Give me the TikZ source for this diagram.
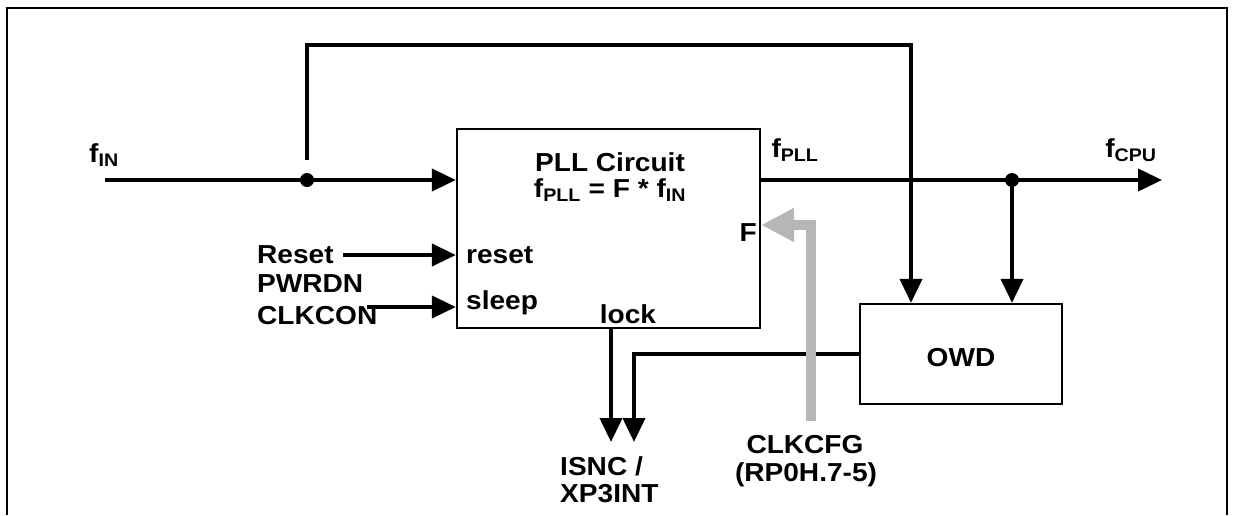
\documentclass[tikz,border=0pt]{standalone}
\usepackage{fontspec}
\setmainfont{Liberation Sans}[FakeStretch=1.08]
\usetikzlibrary{arrows.meta}
\definecolor{cfggray}{RGB}{182,182,182}
\tikzset{
  lbl/.style={inner sep=0pt, font=\bfseries\fontsize{26}{28}\selectfont},
  box/.style={draw, line width=2.3pt, inner sep=0pt},
  wire/.style={line width=4pt},
  arr/.style={wire, -{Triangle[length=24pt,width=22pt]}},
  grayarr/.style={line width=10pt, draw=cfggray, line join=miter, -{Triangle[length=33pt,width=32pt]}},
  dotnode/.style={circle, fill, inner sep=0pt, minimum size=14pt},
  frameline/.style={line width=2.5pt}
}
\begin{document}
\begin{tikzpicture}[x=1pt,y=-1pt]
\useasboundingbox (0,0) rectangle (1234,515);
% frame
\draw[frameline] (7,515) -- (7,8) -- (1227,8) -- (1227,515);
% boxes
\node[box, minimum width=303pt, minimum height=199pt] (pll) at (608.5,228.5) {};
\node[box, minimum width=202pt, minimum height=100pt] (owd) at (961,354) {};
% coordinates
\coordinate (fin) at (105,180);
\node[dotnode] (d1) at (307,180) {};
\node[dotnode] (d2) at (1012,180) {};
\coordinate (tstart) at (307,160);
\coordinate (topR) at (911,45);
\coordinate (fcpu) at (1162,180);
\coordinate (isnc1) at (611,442);
\coordinate (isnc2) at (634,442);
\coordinate (rst) at (343,255);
\coordinate (slp) at (367,307);
\coordinate (cfg) at (811,421);
% wires
\draw[arr] (fin) -- (fin -| pll.west);
\draw[arr] (tstart) |- (topR) -- (topR |- owd.north);
\draw[arr] (pll.east |- fin) -- (fcpu);
\draw[arr] (d2) -- (d2 |- owd.north);
\draw[arr] (owd.west) -| (isnc2);
\draw[arr] (isnc1 |- pll.south) -- (isnc1);
\draw[arr] (rst) -- (rst -| pll.west);
\draw[arr] (slp) -- (slp -| pll.west);
\draw[grayarr] (cfg) |- (pll.east |- 0,225);
% labels
\node[lbl] (tfin) at (104,155) {f\textsubscript{IN}};
\node[lbl] (tfpll) at (795,150) {f\textsubscript{PLL}};
\node[lbl] (tfcpu) at (1131,150) {f\textsubscript{CPU}};
\node[lbl] (tpll) at (610,162) {PLL Circuit};
\node[lbl] (teq) at (610,190) {f\textsubscript{PLL} = F * f\textsubscript{IN}};
\node[lbl, anchor=west] (treset) at (466,255) {reset};
\node[lbl, anchor=west] (tsleep) at (466,303) {sleep};
\node[lbl] (tlock) at (628,314) {lock};
\node[lbl, anchor=east] (tF) at (757,233) {F};
\node[lbl] (towd) at (961,358) {OWD};
\node[lbl, anchor=west] (tReset) at (257,255) {Reset};
\node[lbl, anchor=west] (tpwr) at (257,284) {PWRDN};
\node[lbl, anchor=west] (tclk) at (257,316) {CLKCON};
\node[lbl, anchor=west] (tisnc) at (560,466) {ISNC /};
\node[lbl, anchor=west] (txp) at (560,494) {XP3INT};
\node[lbl] (tcfg) at (805,445) {CLKCFG};
\node[lbl] (trp) at (806,475) {(RP0H.7-5)};
\end{tikzpicture}
\end{document}
